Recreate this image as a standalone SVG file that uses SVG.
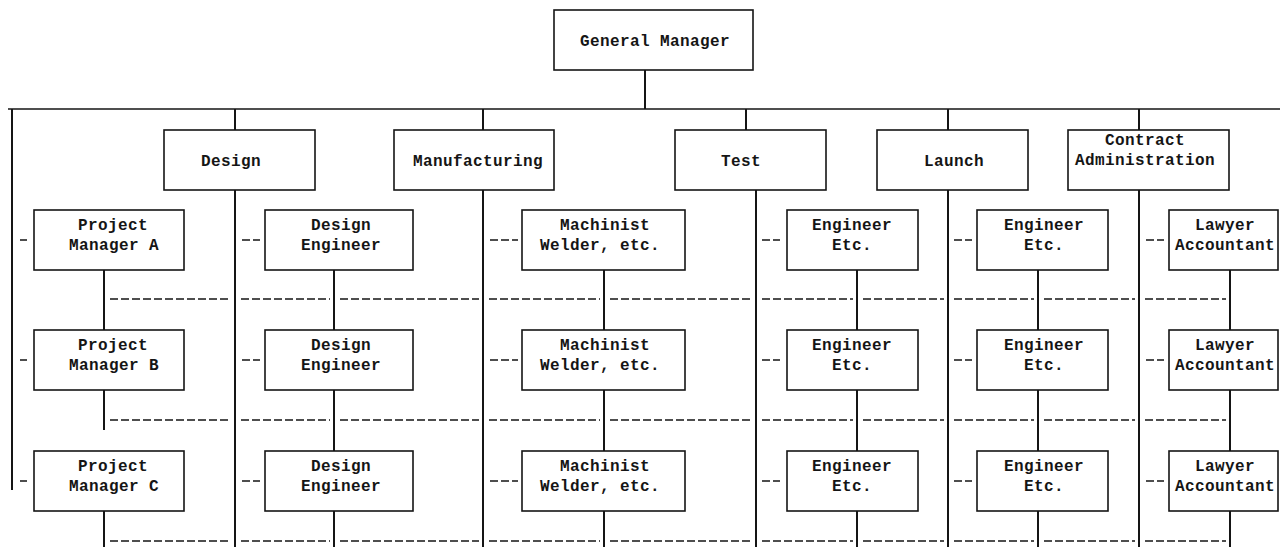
<svg xmlns="http://www.w3.org/2000/svg" width="1280" height="547" viewBox="0 0 1280 547">
<defs>
<style>
.box{fill:#fff;stroke:#151515;stroke-width:1.6}
.ln{stroke:#151515;stroke-width:2;fill:none}
.hl{stroke:#151515;stroke-width:1.5;fill:none}
.dl{stroke:#151515;stroke-width:1.5;fill:none;stroke-dasharray:8 3}
.t{font-family:"Liberation Mono","DejaVu Sans Mono",monospace;font-weight:bold;font-size:16px;letter-spacing:0.4px;fill:#151515;text-anchor:middle}
</style>
</defs>
<rect width="1280" height="547" fill="#fff"/>
<g id="connectors">
<line class="hl" x1="8" y1="109" x2="1280" y2="109"/>
<line class="ln" x1="645" y1="70" x2="645" y2="109"/>
<line class="ln" x1="12" y1="109" x2="12" y2="490"/>
<line class="ln" x1="235" y1="109" x2="235" y2="130"/>
<line class="ln" x1="483" y1="109" x2="483" y2="130"/>
<line class="ln" x1="746" y1="109" x2="746" y2="130"/>
<line class="ln" x1="948" y1="109" x2="948" y2="130"/>
<line class="ln" x1="1139" y1="109" x2="1139" y2="130"/>
<line class="ln" x1="235" y1="190" x2="235" y2="547"/>
<line class="ln" x1="483" y1="190" x2="483" y2="547"/>
<line class="ln" x1="756" y1="190" x2="756" y2="547"/>
<line class="ln" x1="948" y1="190" x2="948" y2="547"/>
<line class="ln" x1="1139" y1="190" x2="1139" y2="547"/>
<path class="ln" d="M104 270V330M104 390V430M104 511V547"/>
<path class="ln" d="M334 270V330M334 390V451M334 511V547"/>
<path class="ln" d="M604 270V330M604 390V451M604 511V547"/>
<path class="ln" d="M857 270V330M857 390V451M857 511V547"/>
<path class="ln" d="M1038 270V330M1038 390V451M1038 511V547"/>
<path class="ln" d="M1230 270V330M1230 390V451M1230 511V547"/>
<path class="dl" d="M110 299H230M241 299H330M340 299H479M489 299H600M610 299H752M762 299H853M863 299H944M954 299H1034M1044 299H1135M1145 299H1226"/>
<path class="dl" d="M110 420H230M241 420H330M340 420H479M489 420H600M610 420H752M762 420H853M863 420H944M954 420H1034M1044 420H1135M1145 420H1226"/>
<path class="dl" d="M110 541H230M241 541H330M340 541H479M489 541H600M610 541H752M762 541H853M863 541H944M954 541H1034M1044 541H1135M1145 541H1226"/>
<path class="hl" d="M20 240H27M20 360H27M20 481H27"/>
<path class="dl" d="M242 240H260M242 360H260M242 481H260"/>
<path class="dl" d="M490 240H518M490 360H518M490 481H518"/>
<path class="dl" d="M762 240H780M762 360H780M762 481H780"/>
<path class="dl" d="M954 240H972M954 360H972M954 481H972"/>
<path class="dl" d="M1146 240H1164M1146 360H1164M1146 481H1164"/>
</g>
<g id="general-manager"><rect class="box" x="554" y="10" width="199" height="60"/><text class="t" x="655" y="46">General Manager</text></g>
<g id="design"><rect class="box" x="164" y="130" width="151" height="60"/><text class="t" x="231" y="166">Design</text></g>
<g id="manufacturing"><rect class="box" x="394" y="130" width="160" height="60"/><text class="t" x="478" y="166">Manufacturing</text></g>
<g id="test"><rect class="box" x="675" y="130" width="151" height="60"/><text class="t" x="741" y="166">Test</text></g>
<g id="launch"><rect class="box" x="877" y="130" width="151" height="60"/><text class="t" x="954" y="166">Launch</text></g>
<g id="contract-administration"><rect class="box" x="1068" y="130" width="161" height="60"/><text class="t" x="1145" y="145">Contract</text><text class="t" x="1145" y="165">Administration</text></g>
<g id="pm-a"><rect class="box" x="34" y="210" width="150" height="60"/><text class="t" x="113" y="230">Project</text><text class="t" x="114" y="250">Manager A</text></g>
<g id="pm-b"><rect class="box" x="34" y="330" width="150" height="60"/><text class="t" x="113" y="350">Project</text><text class="t" x="114" y="370">Manager B</text></g>
<g id="pm-c"><rect class="box" x="34" y="451" width="150" height="60"/><text class="t" x="113" y="471">Project</text><text class="t" x="114" y="491">Manager C</text></g>
<g id="de-1"><rect class="box" x="265" y="210" width="148" height="60"/><text class="t" x="341" y="230">Design</text><text class="t" x="341" y="250">Engineer</text></g>
<g id="de-2"><rect class="box" x="265" y="330" width="148" height="60"/><text class="t" x="341" y="350">Design</text><text class="t" x="341" y="370">Engineer</text></g>
<g id="de-3"><rect class="box" x="265" y="451" width="148" height="60"/><text class="t" x="341" y="471">Design</text><text class="t" x="341" y="491">Engineer</text></g>
<g id="mw-1"><rect class="box" x="522" y="210" width="163" height="60"/><text class="t" x="605" y="230">Machinist</text><text class="t" x="600" y="250">Welder, etc.</text></g>
<g id="mw-2"><rect class="box" x="522" y="330" width="163" height="60"/><text class="t" x="605" y="350">Machinist</text><text class="t" x="600" y="370">Welder, etc.</text></g>
<g id="mw-3"><rect class="box" x="522" y="451" width="163" height="60"/><text class="t" x="605" y="471">Machinist</text><text class="t" x="600" y="491">Welder, etc.</text></g>
<g id="te-1"><rect class="box" x="787" y="210" width="131" height="60"/><text class="t" x="852" y="230">Engineer</text><text class="t" x="852" y="250">Etc.</text></g>
<g id="te-2"><rect class="box" x="787" y="330" width="131" height="60"/><text class="t" x="852" y="350">Engineer</text><text class="t" x="852" y="370">Etc.</text></g>
<g id="te-3"><rect class="box" x="787" y="451" width="131" height="60"/><text class="t" x="852" y="471">Engineer</text><text class="t" x="852" y="491">Etc.</text></g>
<g id="le-1"><rect class="box" x="977" y="210" width="131" height="60"/><text class="t" x="1044" y="230">Engineer</text><text class="t" x="1044" y="250">Etc.</text></g>
<g id="le-2"><rect class="box" x="977" y="330" width="131" height="60"/><text class="t" x="1044" y="350">Engineer</text><text class="t" x="1044" y="370">Etc.</text></g>
<g id="le-3"><rect class="box" x="977" y="451" width="131" height="60"/><text class="t" x="1044" y="471">Engineer</text><text class="t" x="1044" y="491">Etc.</text></g>
<g id="la-1"><rect class="box" x="1169" y="210" width="109" height="60"/><text class="t" x="1225" y="230">Lawyer</text><text class="t" x="1225" y="250">Accountant</text></g>
<g id="la-2"><rect class="box" x="1169" y="330" width="109" height="60"/><text class="t" x="1225" y="350">Lawyer</text><text class="t" x="1225" y="370">Accountant</text></g>
<g id="la-3"><rect class="box" x="1169" y="451" width="109" height="60"/><text class="t" x="1225" y="471">Lawyer</text><text class="t" x="1225" y="491">Accountant</text></g>
</svg>
